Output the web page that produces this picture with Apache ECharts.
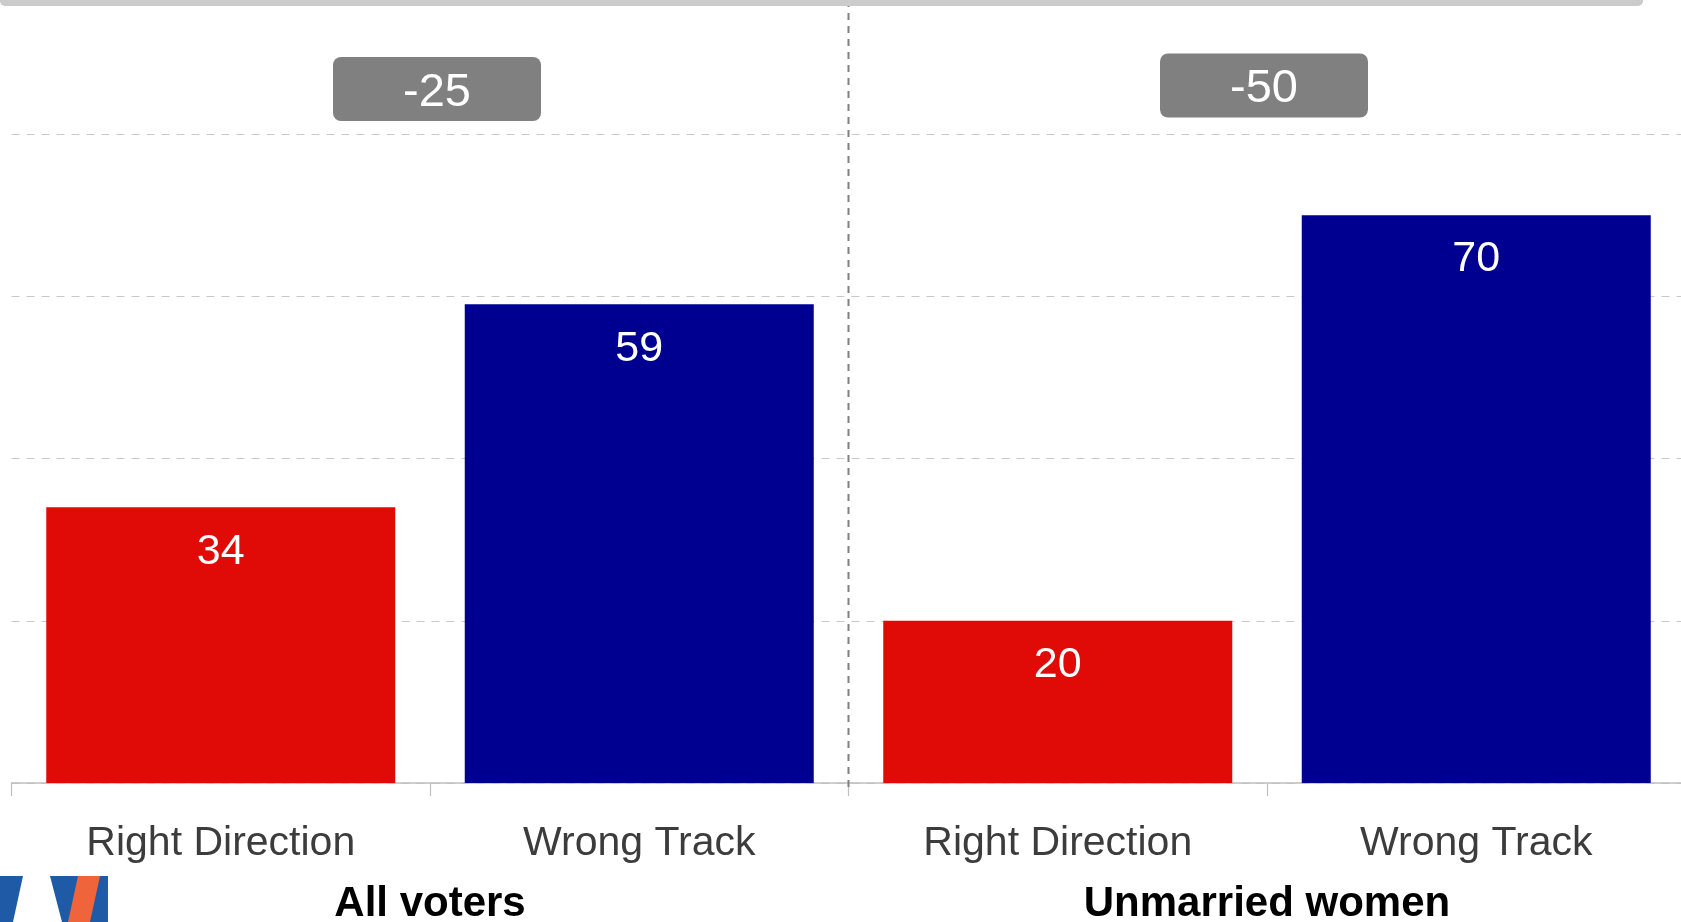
<!DOCTYPE html>
<html><head><meta charset="utf-8">
<script src="https://cdn.jsdelivr.net/npm/echarts@6/dist/echarts.min.js"></script>
<style>html,body{margin:0;padding:0;background:#fff}#chart{width:1681px;height:922px}</style>
</head><body><div id="chart"></div>
<script>
// ---- data ----
const categories = ['Right Direction', 'Wrong Track', 'Right Direction', 'Wrong Track'];
const groups = ['All voters', 'Unmarried women'];
const allVoters = [34, 59];        // Right Direction, Wrong Track
const unmarriedWomen = [20, 70];   // Right Direction, Wrong Track
const netGaps = ['-25', '-50'];
const yTicks = [0, 20, 40, 60, 80];

// ---- styles ----
const RED = '#e00a06', BLUE = '#000090';
const FONT = "'Liberation Sans', Arial, Helvetica, sans-serif";

const values = allVoters.concat(unmarriedWomen);
const chart = echarts.init(document.getElementById('chart'), null, {renderer: 'canvas'});

chart.setOption({
  backgroundColor: '#fff',
  animation: false,
  grid: {left: 11.5, top: 134, width: 1674, height: 649, containLabel: false, outerBoundsMode: 'none'},
  xAxis: [{
    type: 'category', data: categories, gridIndex: 0,
    axisLine: {lineStyle: {color: '#bfbfbf', width: 1.5}},
    axisTick: {show: true, length: 13, lineStyle: {color: '#bfbfbf', width: 1.2}},
    axisLabel: {interval: 0, margin: 40, fontSize: 41, color: '#3c3c3c', fontFamily: FONT},
    splitLine: {show: false}
  }, {
    type: 'category', data: groups, gridIndex: 0, position: 'bottom', offset: 100,
    axisLine: {show: false}, axisTick: {show: false}, splitLine: {show: false},
    axisLabel: {interval: 0, margin: 0, fontSize: 42, fontWeight: 'bold', color: '#000', fontFamily: FONT}
  }],
  yAxis: {
    type: 'value', min: yTicks[0], max: yTicks[yTicks.length - 1], interval: yTicks[1] - yTicks[0],
    axisLabel: {show: false}, axisLine: {show: false}, axisTick: {show: false},
    splitLine: {show: true, lineStyle: {color: '#c8c8c8', type: [8, 7], width: 1}}
  },
  series: [{
    type: 'bar', xAxisIndex: 0, yAxisIndex: 0, barWidth: 349,
    data: values.map((v, i) => ({value: v, itemStyle: {color: i % 2 === 0 ? RED : BLUE}})),
    label: {show: true, position: 'insideTop', distance: 23, color: '#fff', fontSize: 43, fontFamily: FONT}
  }]
});

// ---- decorations positioned from the axes ----
const px = i => chart.convertToPixel({xAxisIndex: 0}, i);
const y0 = chart.convertToPixel({yAxisIndex: 0}, 0);
const dividerX = (px(1) + px(2)) / 2;
const badgeTops = [57, 53.5];
const badgeShift = [7, -3];
const graphics = [];

// header strip (cut off at the top)
graphics.push({type: 'rect', shape: {x: 0, y: -6, width: 1643, height: 12, r: 5}, style: {fill: '#cbcbcb'}, z: 10});

// group divider
graphics.push({type: 'line', shape: {x1: dividerX, y1: 0, x2: dividerX, y2: y0 + 4},
  style: {stroke: '#808080', lineWidth: 2, lineDash: [7, 6]}, z: 5});

// net gap badges
groups.forEach((g, gi) => {
  const cx = (px(2 * gi) + px(2 * gi + 1)) / 2 + badgeShift[gi];
  graphics.push({type: 'rect', shape: {x: cx - 104, y: badgeTops[gi], width: 208, height: 64, r: 8},
    style: {fill: '#808080'}, z: 10});
  graphics.push({type: 'text', x: cx, y: badgeTops[gi] + 36,
    style: {text: netGaps[gi], fill: '#fff', font: '47px ' + FONT, align: 'center', verticalAlign: 'middle'}, z: 11});
});

// partial logo at bottom-left
graphics.push({type: 'rect', shape: {x: 0, y: 876, width: 108, height: 46}, style: {fill: '#1f5aa6'}, z: 10});
graphics.push({type: 'polygon', shape: {points: [[23, 876], [50, 876], [62, 922], [13, 922]]}, style: {fill: '#ffffff'}, z: 11});
graphics.push({type: 'polygon', shape: {points: [[78, 876], [100, 876], [90, 922], [68, 922]]}, style: {fill: '#f0643c'}, z: 11});

chart.setOption({graphic: graphics});
</script>
</body></html>
